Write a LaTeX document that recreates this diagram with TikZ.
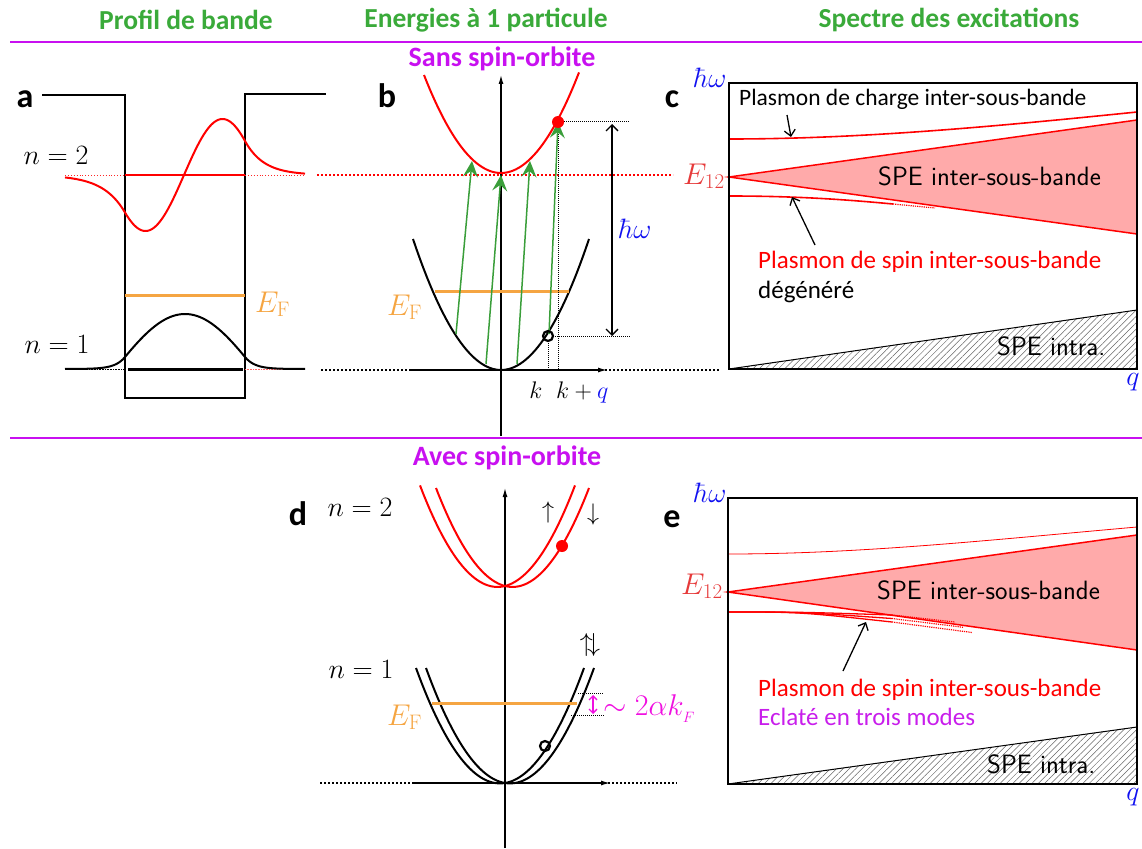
\RequirePackage{fix-cm}
\documentclass[tikz,border=0pt]{standalone}
\usepackage{fontspec}
\newfontfamily\calib{Carlito}
\usetikzlibrary{arrows.meta,patterns.meta,calc}
\usepackage{xcolor}
\definecolor{titleGreen}{HTML}{3AAA3A}
\definecolor{soMagenta}{HTML}{C810F0}
\definecolor{fermiOrange}{HTML}{F5A542}
\definecolor{spePink}{HTML}{FFAAAA}
\definecolor{excGreen}{HTML}{3A9E3A}
\definecolor{alphaMagenta}{HTML}{F010E0}
\definecolor{modeViolet}{HTML}{C81EEB}
\definecolor{hwBlue}{HTML}{1010F0}
\definecolor{eRed}{HTML}{E63A3A}
\tikzset{
title/.style={font=\calib\bfseries\fontsize{27.5}{30}\selectfont, text=titleGreen, inner sep=0},
sotitle/.style={font=\calib\bfseries\fontsize{28}{30}\selectfont, text=soMagenta, inner sep=0},
panel/.style={font=\calib\bfseries\fontsize{34}{40}\selectfont, anchor=base, inner sep=0},
mlbl/.style={font=\fontsize{28}{32}\selectfont, anchor=base, inner sep=0},
elbl/.style={font=\fontsize{30}{34}\selectfont, anchor=base west, inner sep=0},
txt/.style={font=\calib\fontsize{23.5}{27}\selectfont, anchor=base west, inner sep=0},
stxt/.style={font=\calib\fontsize{25}{29}\selectfont, anchor=base west, inner sep=0},
spe/.style={font=\sffamily\fontsize{26.5}{30}\selectfont, anchor=base west, inner sep=0},
rule/.style={soMagenta, line width=2.5pt},
well/.style={black, line width=2pt},
rband/.style={red, line width=2pt},
kband/.style={black, line width=2pt},
fermi/.style={fermiOrange, line width=3pt},
exc/.style={excGreen, line width=1.5pt, -{Stealth[length=16pt,width=15pt,inset=6pt]}},
guide/.style={densely dotted, line width=1pt},
level/.style={dotted, line width=2pt},
pointer/.style={black, line width=1.3pt, -{Straight Barb[length=6pt,width=11pt]}},
dbl/.style={black, line width=1.3pt, {Straight Barb[length=6pt,width=12pt]}-{Straight Barb[length=6pt,width=12pt]}},
axis/.style={black, line width=1.2pt, -{Latex[length=9pt,width=5pt]}},
frame/.style={black, line width=1.5pt},
mode/.style={red, line width=1.6pt},
intra/.style={pattern={Lines[angle=45,distance=4.5pt,line width=0.5pt]}, pattern color=black!60}
}

\begin{document}
\begin{tikzpicture}[x=1pt,y=-1pt]
\useasboundingbox (0,0) rectangle (1142,848);

% headings and separators
\node[title] (tProfil) at (186,20) {Profil de bande};
\node[title] (tEnerg) at (486,20) {Energies à 1 particule};
\node[title] (tSpectre) at (949,20) {Spectre des excitations};
\draw[rule] (10,42) -- (1142,42);
\draw[rule] (10,438) -- (1142,438);
\node[sotitle] (tSans) at (502,59) {Sans spin-orbite};
\node[sotitle] (tAvec) at (507,458) {Avec spin-orbite};

% ---- panel a : quantum well ----
\node[panel] (la) at (25,108) {a};
\draw[well] (42,95) -- (125,95) -- (125,398) -- (245,398) -- (245,94) -- (326,94);
\draw[red!85, dotted, line width=0.9pt] (65,175) -- (125,175) (245,175) -- (305,175);
\draw[densely dotted, line width=0.6pt] (65,369) -- (125,369);
\draw[red!60, densely dotted, line width=0.6pt] (245,369) -- (305,369);
\draw[rband] (125,175) -- (245,175);
\draw[rband] plot[domain=65:125,samples=30] (\x,{175+37.5*exp((\x-125)/22)})
  -- plot[domain=125:245,samples=80] (\x,{175-56*sin(2.3377*(\x-184))})
  -- plot[domain=245:305,samples=30] (\x,{175-34*exp(-(\x-245)/18.8)});
\draw[fermi] (125,295) -- (245,295);
\draw[kband, line width=3pt] (128,369) -- (243,369);
\draw[kband] plot[domain=65:125,samples=30] (\x,{369-12*exp((\x-125)/9.9)})
  -- plot[domain=125:245,samples=80] (\x,{369-55*cos(1.2903*(\x-185))})
  -- plot[domain=245:305,samples=30] (\x,{369-12*exp(-(\x-245)/9.9)});
\node[mlbl] (n2a) at (56,164) {$n=2$};
\node[mlbl] (n1a) at (57,353) {$n=1$};
\node[elbl, text=fermiOrange] (efa) at (255,312) {$E_{\mathrm{F}}$};

% ---- panel b : bands without spin-orbit ----
\node[panel] (lb) at (387,108) {b};
\draw[red, level] (317,175) -- (673,175);
\draw[level] (321,370) -- (719,370);
\draw[axis] (411,370) -- (607,370);
\draw[axis] (501,436) -- (501,75);
\draw[rband] plot[domain=424:579,samples=60] (\x,{173-98*((\x-501)/77)^2});
\draw[kband] plot[domain=413:589,samples=60] (\x,{370-131*((\x-501)/88)^2});
\draw[fermi] (435,291) -- (569,291);
\node[elbl, text=fermiOrange] (efb) at (387,315) {$E_{\mathrm{F}}$};
\coordinate (g1s) at (456,334); \coordinate (g1e) at (472,161);
\coordinate (g2s) at (486,364); \coordinate (g2e) at (501,175);
\coordinate (g3s) at (517,364); \coordinate (g3e) at (530,161);
\coordinate (g4s) at (549,334); \coordinate (g4e) at (558,122);
\coordinate (hole) at (548,336);
\coordinate (elec) at (558,122);
\draw[guide] (elec) -- (630,122);
\draw[guide] (553,336) -- (630,336);
\draw[guide] (548,341) -- (548,370);
\draw[guide] (elec) -- (558,370);
\foreach \i in {1,...,4}
  \draw[exc] (g\i s) -- (g\i e);
\fill[red] (elec) circle (6);
\draw[line width=2.2pt] (hole) circle (5);
\coordinate (hwt) at (612,124);
\coordinate (hwb) at (612,336);
\draw[dbl] (hwt) -- (hwb);
\node[mlbl, text=hwBlue] (hwb1) at (635,238) {$\hbar\omega$};
\node[font=\fontsize{24}{28}\selectfont, anchor=base, inner sep=0] (kb) at (536,398) {$k$};
\node[font=\fontsize{24}{28}\selectfont, anchor=base west, inner sep=0] (kqb) at (556,398) {$k+{\color{hwBlue}q}$};

% ---- panel c : excitation spectrum ----
\node[panel] (lc) at (672,108) {c};
\fill[spePink] (729,177) -- (1137,120) -- (1137,234) -- cycle;
\draw[red, line width=1.5pt] (1137,120) -- (729,177) -- (1137,234);
\fill[intra] (729,369) -- (1137,310) -- (1137,369) -- cycle;
\draw[line width=1pt] (729,369) -- (1137,310);
\draw[mode] (729,139) .. controls (860,139) and (990,127) .. (1137,112);
\draw[mode] (729,196) .. controls (800,196) and (850,200) .. (893,204);
\draw[red, densely dotted, line width=1.2pt] (893,204) -- (935,208);
\draw[frame] (729,83) rectangle (1137,369);
\node[mlbl, text=hwBlue] (hwc) at (710,88) {$\hbar\omega$};
\node[elbl, text=eRed] (e12c) at (683,184) {$E_{12}$};
\node[mlbl, text=hwBlue] (qc) at (1133,385) {$q$};
\node[txt] (chgc) at (739,106) {Plasmon de charge inter-sous-bande};
\node[spe] (spec) at (878,185) {SPE inter-sous-bande};
\node[stxt, text=red] (spnc) at (758,268) {Plasmon de spin inter-sous-bande};
\node[stxt] (degc) at (758,298) {dégénéré};
\node[spe] (intc) at (997,355) {SPE intra.};
\coordinate (chgTip) at (791,137);
\coordinate (spnTip) at (792,197);
\draw[pointer] (787,115) -- (chgTip);
\draw[pointer] (815,245) -- (spnTip);

% ---- panel d : bands with spin-orbit ----
\node[panel] (ld) at (298,525) {d};
\draw[level] (320,783) -- (677,783);
\draw[axis] (414,783) -- (610,783);
\draw[axis] (505,848) -- (505,488);
\draw[rband] plot[domain=436:589,samples=60] (\x,{586-0.01691*((\x-512.5)^2-56.25)});
\draw[rband] plot[domain=420:575,samples=60] (\x,{586-0.01691*((\x-497.5)^2-56.25)});
\draw[kband] plot[domain=426:594,samples=60] (\x,{783-0.01636*((\x-510)^2-25)});
\draw[kband] plot[domain=416:584,samples=60] (\x,{783-0.01636*((\x-500)^2-25)});
\draw[fermi] (432,703) -- (577,703);
\draw[guide] (578,693) -- (604,693);
\draw[guide] (571,715) -- (604,715);
\draw[alphaMagenta, line width=1.3pt, {Straight Barb[length=4pt,width=8pt]}-{Straight Barb[length=4pt,width=8pt]}] (593,695) -- (593,714);
\node[elbl, text=alphaMagenta] (soc) at (603,715) {$\sim 2\alpha k_{_F}$};
\fill[red] (562,546) circle (6);
\draw[line width=2.2pt] (545,746) circle (5);
\node[mlbl] (n2d) at (360,516) {$n=2$};
\node[mlbl] (n1d) at (361,678) {$n=1$};
\node[elbl, text=fermiOrange] (efd) at (387,725) {$E_{\mathrm{F}}$};
\node[font=\fontsize{24}{28}\selectfont, inner sep=0] (upd) at (548,512) {$\uparrow$};
\node[font=\fontsize{24}{28}\selectfont, inner sep=0] (dnd) at (593,514) {$\downarrow$};
\node[font=\fontsize{26}{30}\selectfont, inner sep=0] (uddd) at (590,645) {$\uparrow\mkern-4mu\downarrow$};

% ---- panel e : excitation spectrum with spin-orbit ----
\node[panel] (le) at (672,527) {e};
\fill[spePink] (728,592) -- (1137,535) -- (1137,650) -- cycle;
\draw[red, line width=1.5pt] (1137,535) -- (728,592) -- (1137,650);
\fill[intra] (728,784) -- (1137,727) -- (1137,784) -- cycle;
\draw[line width=1pt] (728,784) -- (1137,727);
\draw[red, line width=0.8pt] (728,554) .. controls (860,554) and (990,540) .. (1137,527);
\foreach \d/\e in {0/955,3.5/963,7/972}{
  \draw[mode, line width=1.3pt] (728,612) .. controls (800,612) .. (892,615+\d);
  \draw[red, densely dotted, line width=1.2pt] (892,615+\d) -- (\e,622+1.5*\d);
}
\draw[frame] (728,498) rectangle (1137,784);
\node[mlbl, text=hwBlue] (hwe) at (710,502) {$\hbar\omega$};
\node[elbl, text=eRed] (e12e) at (681,594) {$E_{12}$};
\node[mlbl, text=hwBlue] (qe) at (1133,800) {$q$};
\node[spe] (spee) at (877,599) {SPE inter-sous-bande};
\node[stxt, text=red] (spne) at (758,696) {Plasmon de spin inter-sous-bande};
\node[stxt, text=modeViolet] (ecle) at (758,725) {Eclaté en trois modes};
\node[spe] (inte) at (987,773) {SPE intra.};
\coordinate (modeTip) at (866,622);
\draw[pointer] (843,671) -- (modeTip);
\end{tikzpicture}
\end{document}
